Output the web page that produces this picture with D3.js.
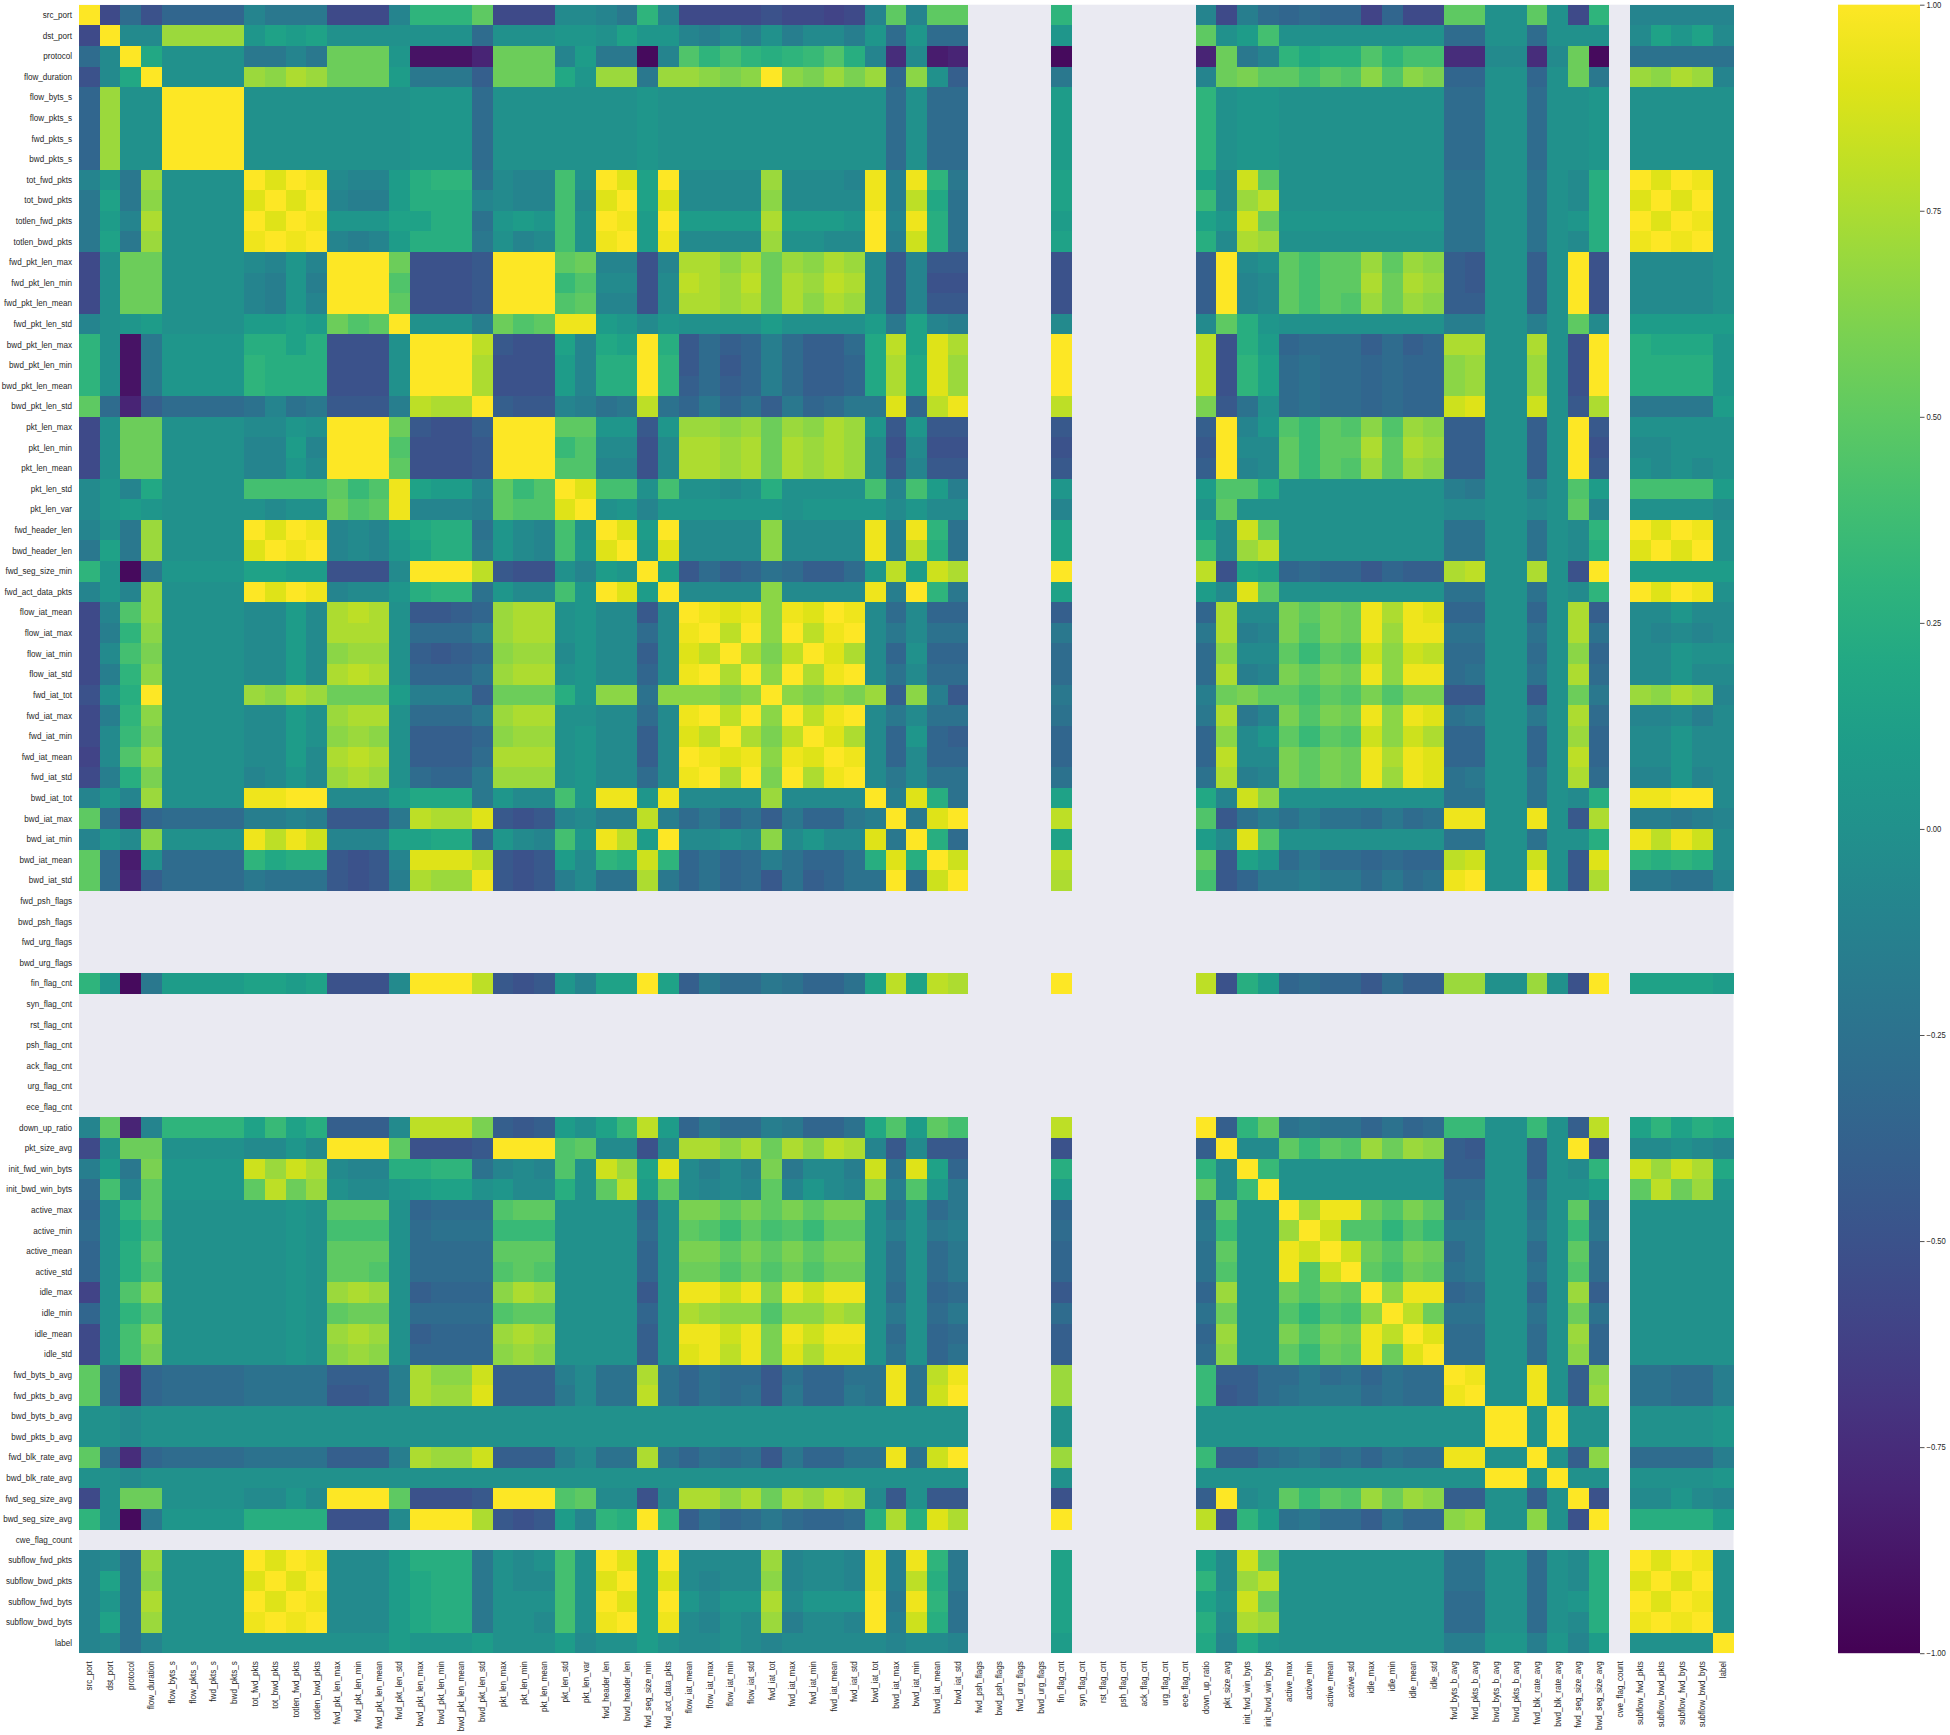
<!DOCTYPE html>
<html><head><meta charset="utf-8">
<script src="https://cdnjs.cloudflare.com/ajax/libs/d3/7.8.5/d3.min.js"></script>
<style>html,body{margin:0;padding:0;background:#fff}svg{display:block}
text{font-family:"Liberation Sans",Arial,sans-serif;fill:#262626}</style></head>
<body><svg id="c" width="1950" height="1735"></svg>
<script>
const features = ["src_port","dst_port","protocol","flow_duration","flow_byts_s","flow_pkts_s","fwd_pkts_s","bwd_pkts_s","tot_fwd_pkts","tot_bwd_pkts","totlen_fwd_pkts","totlen_bwd_pkts","fwd_pkt_len_max","fwd_pkt_len_min","fwd_pkt_len_mean","fwd_pkt_len_std","bwd_pkt_len_max","bwd_pkt_len_min","bwd_pkt_len_mean","bwd_pkt_len_std","pkt_len_max","pkt_len_min","pkt_len_mean","pkt_len_std","pkt_len_var","fwd_header_len","bwd_header_len","fwd_seg_size_min","fwd_act_data_pkts","flow_iat_mean","flow_iat_max","flow_iat_min","flow_iat_std","fwd_iat_tot","fwd_iat_max","fwd_iat_min","fwd_iat_mean","fwd_iat_std","bwd_iat_tot","bwd_iat_max","bwd_iat_min","bwd_iat_mean","bwd_iat_std","fwd_psh_flags","bwd_psh_flags","fwd_urg_flags","bwd_urg_flags","fin_flag_cnt","syn_flag_cnt","rst_flag_cnt","psh_flag_cnt","ack_flag_cnt","urg_flag_cnt","ece_flag_cnt","down_up_ratio","pkt_size_avg","init_fwd_win_byts","init_bwd_win_byts","active_max","active_min","active_mean","active_std","idle_max","idle_min","idle_mean","idle_std","fwd_byts_b_avg","fwd_pkts_b_avg","bwd_byts_b_avg","bwd_pkts_b_avg","fwd_blk_rate_avg","bwd_blk_rate_avg","fwd_seg_size_avg","bwd_seg_size_avg","cwe_flag_count","subflow_fwd_pkts","subflow_bwd_pkts","subflow_fwd_byts","subflow_bwd_byts","label"];
// Constant features: their correlations are undefined, so only the background shows.
const emptyFeatures = ["fwd_psh_flags","bwd_psh_flags","fwd_urg_flags","bwd_urg_flags","syn_flag_cnt","rst_flag_cnt","psh_flag_cnt","ack_flag_cnt","urg_flag_cnt","ece_flag_cnt","cwe_flag_count"];
// Value codes: A..T = -1.00..-0.05, 0 = 0, a..t = +0.05..+1.00, in steps of 0.05.
const negativeCodes = "ABCDEFGHIJKLMNOPQRST";
const positiveCodes = "abcdefghijklmnopqrst";
const colorbarTicks = [-1,-0.75,-0.5,-0.25,0,0.25,0.5,0.75,1];
// Upper triangle of the correlation matrix, each row starting at the diagonal; non-empty features only.
const upperTriangle = [
"tJOK NNNN SQQQ JJJS fffj JJJTT SQfS JJJJ KJJIJ SjSjj f SJRO NONN INJJ jj00j0 Jf SSSS S",
"tTT nnnn acbc 0000 000O 000aa 0caa SRTR 0RTTR aOaOO a j0bh 0000 0000 OO00O0 00 Tcac T",
"td 0000 QQSQ kkka CCCE kkkSb QQBS ifhf efgie SFTDE B EkQS fdee ifhh FFTTFT kB PPPP P",
"t 0000 nmon kkkb QQQM kkkda nnQn nmlm tmlnl nNm0M Q Sklj jhji miml NN00N0 kQ nmon S",
"tttt 0000 0000 aaaO 00000 00a0 0000 00000 0O0OO b f0aa 0000 0000 OO00O0 0a 0000 0",
"ttt 0000 0000 aaaO 00000 00a0 0000 00000 0O0OO b f0aa 0000 0000 OO00O0 0a 0000 0",
"tt 0000 0000 aaaO 00000 00a0 0000 00000 0O0OO b f0aa 0000 0000 OO00O0 0a 0000 0",
"t 0000 0000 aaaO 00000 00a0 0000 00000 0O0OO b f0aa 0000 0000 OO00O0 0a 0000 0",
"trts TSSb effP TSSh0 trct TTTT nTTTS sRsfQ c cTqj 0000 0000 PP00P0 Te trts 0",
"trt SRRb eeeS TSShT rtcr TTTT mTTTT sRpdP c gTnp 0000 0000 PP00P0 Te rtrt 0",
"ts aaac ceeP abah0 tsbt bbbb obbba tSseP b caqk aaaa aaaa PP00P0 ae trts 0",
"t SRSb eeeQ 0STh0 stbs TTTT n00TT tRqeP c eTon 0000 0000 PP00P0 Te stst 0",
"tttk KKKL tttjk SSKS oomo knmon TLSLL K MtT0 jhjj njnm ML00M0 tK TTTT 0",
"tti KKKL tttgi TTKT ponp konpo TLSKK K MtST jhjj okon ML00M0 tK TTTT 0",
"tj KKKL tttij SSKT oono komon TLSLL K MtST jhji nknm MM00M0 tK TTTT 0",
"t 000R kijss baTa 0000 b0000 bQcSR T Tjea 0000 0000 RR00R0 jT bbbb b",
"tttp LKKcS dcte LOMN ROMMO dpcro t pKeb NOOO MOMN oo00o0 Kt eddd a",
"tto KKKbS eetf LOLN ROMMN dodrn t pKfc OPOO NONN mn00n0 Kt eeee a",
"to KKKbS eetf MOMN ROMMN dodrn t pKfc OPOO NONN mn00n0 Kt eeee a",
"t MLLSR PQpP NQNP MQNOQ QrNps p lLP0 OPOO NONN qr00q0 Lo QQQQ b",
"tttjj aaLa nnmn knmon aLaLL L MtSa igji minm MM00M0 tL 0000 0",
"ttgi TTKT oono konon TKTKK K LtTT jgjj ojon MM00M0 tK TT00 0",
"tii SSKT oono konon TLSLL L MtST jgji njnm MM00M0 tL 0T0T 0",
"tr hh0h 00T0 e0000 hShbR a biie 0000 0000 RQ00R0 ib hhhh b",
"t 0aSa aaaa a0aaa aTaTT S 0j00 0000 0000 TT00T0 jS 0000 T",
"trbt TTTT mTTTT sRsfP c cTqj 0000 0000 PP00P0 Tf trts 0",
"tar TTTT mTTTT sRpeP c gTnp 0000 0000 PP00P0 Te rtrt 0",
"tb LOMN POMMO apbqo t pKcb NONN LNMM op00o0 Kt bbbb b",
"t TTTT mTTTT sRtfQ c bTrj 0000 0000 PP00P0 Tf trts 0",
"tsrs msrts TOTNN M NoTT ljlk sosr NN00N0 oM TTaT T",
"tpt mtpst TQTPP Q QoRS lilk snss PP00P0 oP TSTS T",
"to lptro TN0NN O OmTT jgji qmqp OO00O0 mN TTa0 0",
"t mtost TPTOO O OoRS ljlk smss OP00P0 oO TTaT T",
"tmlml nMmRL Q Rklj jhji lill LL00L0 kQ nmon S",
"tpst TQTPP P QoQS lilk smsr PQ00Q0 oO SSTR T",
"tro TNaNM N NmTa jgji qmqo NN00N0 nN TTaT T",
"ts TNTNN N NpTT ljlk sosr NN00N0 pN TTaT T",
"t TQTPP P PoRS ljlk snsr PQ00P0 oO SSaS T",
"tRreP c dSqm 0000 0000 PP00P0 Te sstt T",
"tQrt p iLPR PRPP OQOP ss00s0 Lo RRQR S",
"teO c bTri 0000 0000 PP00P0 0e spsq T",
"tq p jLca OQOO NONN pq00q0 Lr fefe T",
"t o hLNQ QRQQ OQOP st00t0 Lo QQPP S",
"t pKeb NONN LOMM nn00n0 Kt cccc b",
"tMfj PQPP NPNO gg00g0 Mp cfce d",
"tTT jgji nknm ML00M0 tK TT0T S",
"tg 0000 0000 MM00M0 Tf qnqo d",
"t 0000 0000 OO00O0 0b jpkn a",
"tnss kilj OP00P0 jP 0000 0",
"tqi ifig QQ00Q0 gQ 0000 0",
"tq kilk OQ00O0 jO 0000 0",
"t jhkj PQ00P0 iO 0000 0",
"tmss NO00N0 nM 0000 0",
"tpk PP00P0 kP 0000 0",
"tr OO00O0 nN 0000 0",
"t OO00O0 mN 0000 0",
"ts00s0 Mm PPOO R",
"t00s0 Mn PPOO R",
"tt0t 00 0000 a",
"t0t 00 0000 a",
"t0 Mm OOOO R",
"t 00 0000 a",
"tK TTaT S",
"t eeee b",
"trts 0",
"trt 0",
"ts 0",
"t 0",
"t"
];

const decode = c => {
  if (c === "0") return 0;
  const n = negativeCodes.indexOf(c);
  if (n >= 0) return (n - 20) / 20;
  return (positiveCodes.indexOf(c) + 1) / 20;
};
const filled = features.filter(f => !emptyFeatures.includes(f));
const cells = [];
upperTriangle.forEach((row, i) => {
  const codes = row.replace(/\s/g, "");
  if (codes.length !== filled.length - i) throw new Error("row " + i + " (" + filled[i] + ") has " + codes.length + ", expected " + (filled.length - i));
  [...codes].forEach((c, k) => {
    const v = decode(c), j = i + k;
    cells.push({row: filled[i], col: filled[j], v});
    if (j !== i) cells.push({row: filled[j], col: filled[i], v});
  });
});

const svg = d3.select("#c");
const plot = {left: 79, right: 1733.5, top: 4.7, bottom: 1653.2};
const x = d3.scaleBand().domain(features).range([plot.left, plot.right]);
const y = d3.scaleBand().domain(features).range([plot.top, plot.bottom]);
const color = d3.scaleSequential(d3.interpolateViridis).domain([-1, 1]);

svg.append("rect").attr("x", plot.left).attr("y", plot.top)
  .attr("width", plot.right - plot.left).attr("height", plot.bottom - plot.top).attr("fill", "#EAEAF2");

svg.append("g").attr("shape-rendering", "crispEdges").selectAll("rect").data(cells).join("rect")
  .attr("x", d => x(d.col)).attr("y", d => y(d.row))
  .attr("width", x.bandwidth()).attr("height", y.bandwidth())
  .attr("fill", d => color(d.v));

const fontSize = 9, squeeze = 0.9;
const yAxis = svg.append("g").attr("transform", `translate(${plot.left},0)`)
  .call(d3.axisLeft(y).tickSize(0).tickPadding(7));
yAxis.select(".domain").remove();
yAxis.selectAll("text").attr("font-size", fontSize).attr("font-family", null)
  .attr("x", 0).attr("transform", `translate(-7,0) scale(${squeeze},1)`);

const xAxis = svg.append("g").attr("transform", `translate(0,${plot.bottom})`)
  .call(d3.axisBottom(x).tickSize(0));
xAxis.select(".domain").remove();
xAxis.selectAll("text").attr("font-size", fontSize).attr("font-family", null)
  .attr("text-anchor", "end").attr("dy", "0.32em").attr("y", 0)
  .attr("transform", `translate(0,8) rotate(-90) scale(${squeeze},1)`);

// colour bar
const bar = {left: 1838, right: 1920};
const cy = d3.scaleLinear().domain([-1, 1]).range([plot.bottom, plot.top]);
const grad = svg.append("defs").append("linearGradient").attr("id", "vir")
  .attr("x1", 0).attr("x2", 0).attr("y1", 1).attr("y2", 0);
d3.range(0, 1.0001, 0.05).forEach(t => grad.append("stop").attr("offset", t).attr("stop-color", d3.interpolateViridis(t)));
svg.append("rect").attr("x", bar.left).attr("y", plot.top).attr("width", bar.right - bar.left)
  .attr("height", plot.bottom - plot.top).attr("fill", "url(#vir)");
const cAxis = svg.append("g").attr("transform", `translate(${bar.right},0)`)
  .call(d3.axisRight(cy).tickValues(colorbarTicks).tickFormat(d3.format(".2f")).tickSize(4.5).tickPadding(2));
cAxis.select(".domain").remove();
cAxis.selectAll("line").attr("stroke", "#262626").attr("stroke-width", 0.8);
cAxis.selectAll("text").attr("font-size", 8.5).attr("font-family", null)
  .attr("x", 0).attr("transform", `translate(6.5,0) scale(${squeeze},1)`);
</script>
</body></html>
